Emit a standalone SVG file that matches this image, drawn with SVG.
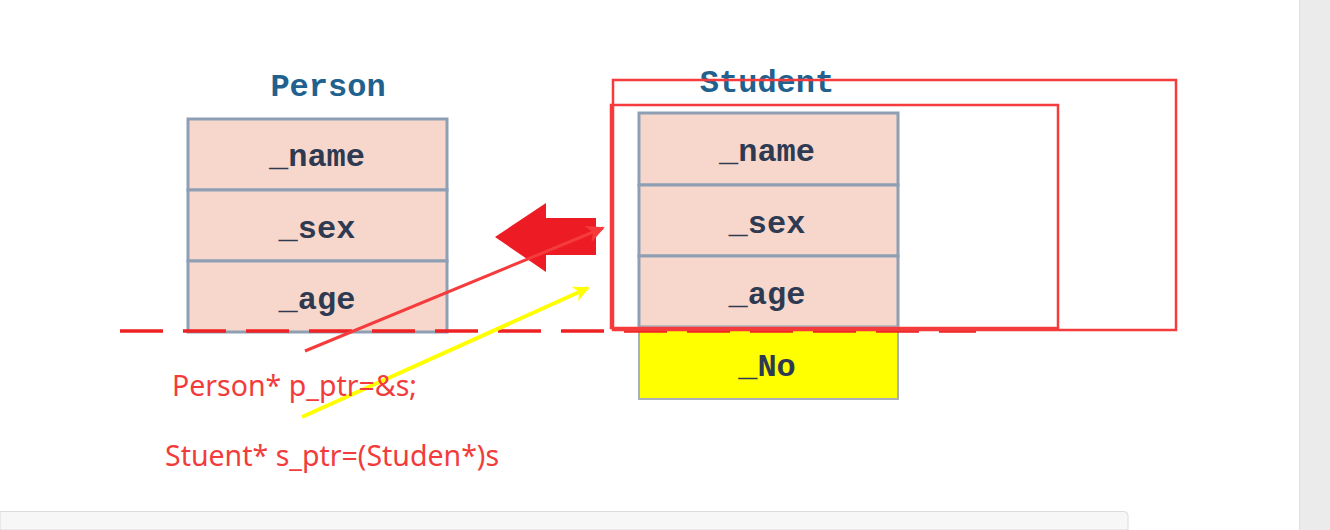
<svg xmlns="http://www.w3.org/2000/svg" width="1330" height="530" viewBox="0 0 1330 530">
<defs>
<style>
.cell{fill:#f7d7cc;stroke:#8e9fb4;stroke-width:3}
.yel{fill:#ffff00;stroke:#a9b0b8;stroke-width:2}
.fld{font-family:"Liberation Mono",monospace;font-weight:bold;font-size:32px;fill:#2e3a52;text-anchor:middle}
.ttl{font-family:"Liberation Mono",monospace;font-weight:bold;font-size:32px;fill:#21618e;text-anchor:middle}
.code{font-family:"Noto Sans","Liberation Sans",sans-serif;font-size:28.5px;fill:#f23c3c}
.frame{fill:none;stroke:#f53b3b;stroke-width:2.5}
</style>
<marker id="ahR" viewBox="0 0 10 10" refX="9" refY="5" markerWidth="6" markerHeight="6" orient="auto" markerUnits="strokeWidth">
<path d="M0,0 L10,5 L0,10 L3,5 z" fill="#f53b3b"/>
</marker>
<marker id="ahY" viewBox="0 0 10 10" refX="9" refY="5" markerWidth="4" markerHeight="4" orient="auto" markerUnits="strokeWidth">
<path d="M0,0 L10,5 L0,10 L3,5 z" fill="#ffff00"/>
</marker>
</defs>
<rect width="1330" height="530" fill="#ffffff"/>
<rect x="1299" y="0" width="31" height="530" fill="#ebebeb"/>
<line x1="1299.5" y1="0" x2="1299.5" y2="530" stroke="#dedede"/>
<path d="M0,511.5 H1124 a4,4 0 0 1 4,4 V530 H0 z" fill="#f7f7f7" stroke="#dcdcdc"/>

<g id="person">
<text class="ttl" x="328" y="96">Person</text>
<rect class="cell" x="188" y="119" width="259" height="71"/>
<rect class="cell" x="188" y="190" width="259" height="71"/>
<rect class="cell" x="188" y="261" width="259" height="71"/>
<text class="fld" x="317" y="166">_name</text>
<text class="fld" x="317" y="238">_sex</text>
<text class="fld" x="317" y="309">_age</text>
</g>

<g id="student">
<text class="ttl" x="767" y="92">Student</text>
<rect class="cell" x="639" y="113" width="259" height="72"/>
<rect class="cell" x="639" y="185" width="259" height="71"/>
<rect class="cell" x="639" y="256" width="259" height="71"/>
<rect class="yel" x="639" y="327" width="259" height="72"/>
<text class="fld" x="767" y="161">_name</text>
<text class="fld" x="767" y="233">_sex</text>
<text class="fld" x="767" y="304">_age</text>
<text class="fld" x="767" y="376">_No</text>
</g>

<g id="boundary">
<line x1="120" y1="331" x2="976" y2="331" stroke="#ee2222" stroke-width="3.5" stroke-dasharray="43 20"/>
</g>

<g id="frames">
<rect class="frame" x="613" y="80" width="563" height="250"/>
<rect class="frame" x="611" y="105" width="447" height="223"/>
</g>

<g id="big-arrow">
<path d="M495,237 L546,203 L546,218 L596,218 L596,255 L546,255 L546,272 z" fill="#ed1c24"/>
</g>

<g id="connectors">
<line x1="305" y1="351" x2="603" y2="228" stroke="#f53b3b" stroke-width="3" marker-end="url(#ahR)"/>
<line x1="302" y1="417" x2="588" y2="288" stroke="#ffff00" stroke-width="4" marker-end="url(#ahY)"/>
</g>

<g id="labels">
<text class="code" x="172" y="396">Person* p_ptr=&amp;s;</text>
<text class="code" x="165" y="466">Stuent* s_ptr=(Studen*)s</text>
</g>
</svg>
